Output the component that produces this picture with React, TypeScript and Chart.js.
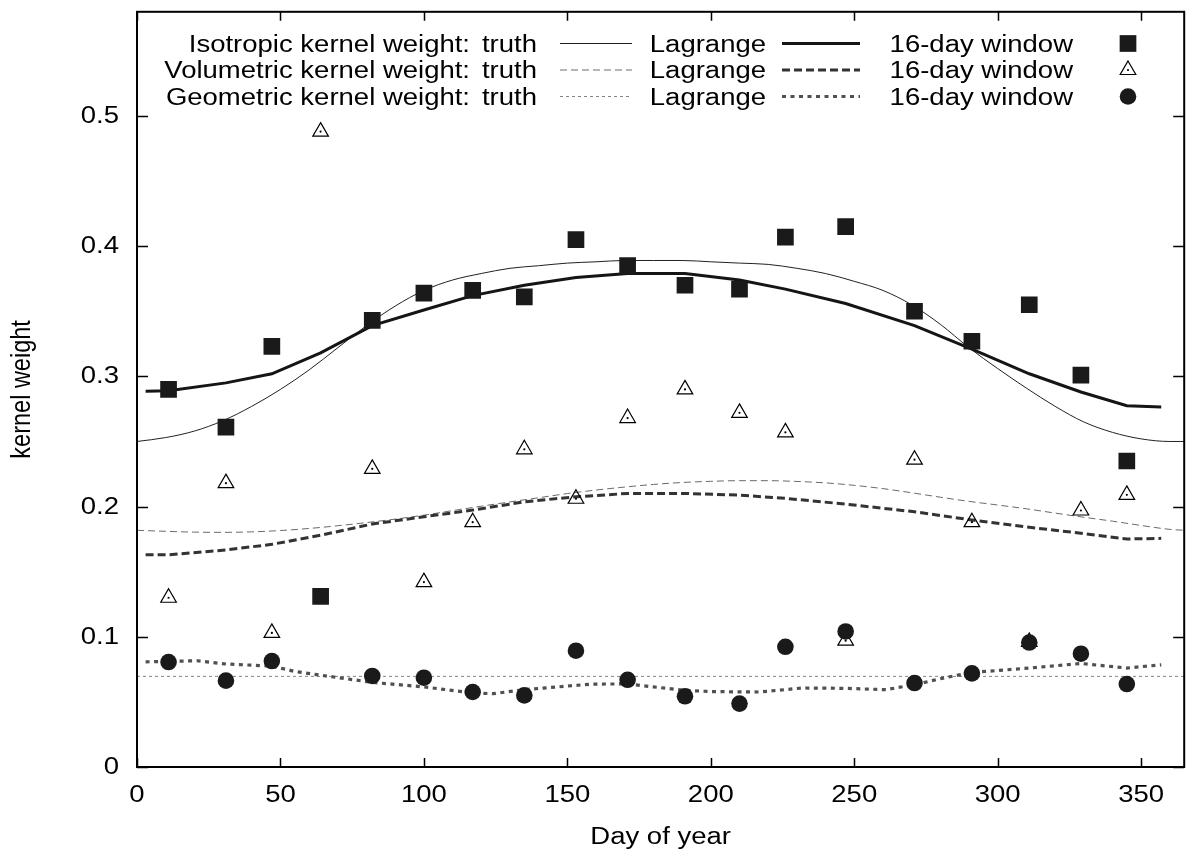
import React, { useEffect, useRef } from 'react';
import { Chart, registerables } from 'chart.js';

Chart.register(...registerables);

// ---------- data ----------
const truthDays = [0, 10, 20, 30, 40, 50, 60, 70, 80, 90, 100, 110, 120, 130, 140, 150, 160, 170, 180,
  190, 200, 210, 220, 230, 240, 250, 260, 270, 280, 290, 300, 310, 320, 330, 340, 350, 360, 365];
const isoTruth = [0.250, 0.253, 0.258, 0.266, 0.277, 0.290, 0.305, 0.322, 0.339, 0.354, 0.366, 0.374, 0.379,
  0.383, 0.385, 0.387, 0.388, 0.389, 0.389, 0.389, 0.388, 0.387, 0.386, 0.383, 0.379, 0.373, 0.366, 0.355,
  0.340, 0.322, 0.306, 0.291, 0.277, 0.265, 0.257, 0.252, 0.250, 0.250];
const volTruth = [0.1818, 0.1810, 0.1804, 0.1802, 0.1806, 0.1816, 0.1832, 0.1853, 0.1877, 0.1904, 0.1934,
  0.1969, 0.2003, 0.2036, 0.2068, 0.2100, 0.2127, 0.2150, 0.2170, 0.2185, 0.2194, 0.2199, 0.2199, 0.2193,
  0.2182, 0.2163, 0.2138, 0.2106, 0.2072, 0.2040, 0.2012, 0.1983, 0.1950, 0.1918, 0.1888, 0.1855, 0.1825,
  0.1818];
const geoTruthDays = [0, 365];
const geoTruth = [0.0696, 0.0696];

const lagDays = [3, 11, 31, 47, 64, 82, 100, 117, 135, 153, 171, 191, 210, 226, 247, 271, 291, 311, 329, 345, 357];
const isoLagrange = [0.2885, 0.289, 0.295, 0.302, 0.318, 0.339, 0.351, 0.362, 0.370, 0.376, 0.379, 0.379,
  0.374, 0.367, 0.356, 0.339, 0.321, 0.302, 0.288, 0.2775, 0.2765];
const volLagrange = [0.163, 0.163, 0.1667, 0.171, 0.178, 0.1866, 0.1922, 0.1973, 0.2037, 0.2075, 0.2101,
  0.2101, 0.2088, 0.2063, 0.2019, 0.196, 0.1897, 0.1841, 0.1795, 0.1751, 0.1756];
const geoLagDays = [3, 11, 21, 31, 47, 55, 64, 82, 100, 117, 124, 135, 153, 159, 171, 180, 191, 200, 217,
  232, 247, 261, 271, 281, 291, 311, 329, 345, 357];
const geoLagrange = [0.0808, 0.0811, 0.0816, 0.0791, 0.0775, 0.0734, 0.0705, 0.065, 0.0615, 0.0569, 0.0563,
  0.0594, 0.0627, 0.0637, 0.0638, 0.0615, 0.0589, 0.0579, 0.0576, 0.0607, 0.0604, 0.0594, 0.0632, 0.0683,
  0.0726, 0.076, 0.0795, 0.076, 0.0785];

const windowDays = [11, 31, 47, 64, 82, 100, 117, 135, 153, 171, 191, 210, 226, 247, 271, 291, 311, 329, 345];
const isoWindow = [0.290, 0.261, 0.323, 0.131, 0.343, 0.364, 0.366, 0.361, 0.405, 0.385, 0.370, 0.367,
  0.407, 0.415, 0.350, 0.327, 0.355, 0.301, 0.235];
const volWindow = [0.130, 0.218, 0.103, 0.488, 0.229, 0.142, 0.188, 0.244, 0.206, 0.268, 0.290, 0.272,
  0.257, 0.097, 0.236, 0.188, 0.096, 0.197, 0.209];
const geoWindow = [0.0806, 0.0663, 0.0814, null, 0.0699, 0.0686, 0.0576, 0.055, 0.0893, 0.067, 0.0543,
  0.0487, 0.0923, 0.1041, 0.0645, 0.0719, 0.0956, 0.087, 0.0637];

const xTicks = [0, 50, 100, 150, 200, 250, 300, 350];
const xTickLabels = ['0', '50', '100', '150', '200', '250', '300', '350'];
const yTicks = [0, 0.1, 0.2, 0.3, 0.4, 0.5];
const yTickLabels = ['0', '0.1', '0.2', '0.3', '0.4', '0.5'];

const rowLabels = ['Isotropic kernel weight:', 'Volumetric kernel weight:', 'Geometric kernel weight:'];
const entryLabels = ['truth', 'Lagrange', '16-day window'];

const xAxisTitle = 'Day of year';
const yAxisTitle = 'kernel weight';

// ---------- helpers ----------
const pts = (xs: number[], ys: (number | null)[]) =>
  xs.map((x, i) => ({ x, y: ys[i] })).filter((p) => p.y !== null);

const FONT = "'Liberation Sans', Arial, Helvetica, sans-serif";
const FS = 23.5; // glyph height of the reference text
const SX = 1.17; // the reference text is horizontally wider than tall

const lineStyles = [
  { truth: { color: '#222222', width: 1, dash: [] as number[] }, lag: { color: '#151515', width: 3, dash: [] as number[] } },
  { truth: { color: '#6a6a6a', width: 1, dash: [7, 4] }, lag: { color: '#333333', width: 3, dash: [8, 4] } },
  { truth: { color: '#858585', width: 1, dash: [3, 3] }, lag: { color: '#505050', width: 3.2, dash: [4, 4.5] } },
];

function text(ctx: CanvasRenderingContext2D, s: string, x: number, y: number, align: CanvasTextAlign, rotate = false) {
  ctx.save();
  ctx.translate(x, y);
  ctx.scale(SX, 1);
  if (rotate) ctx.rotate(-Math.PI / 2);
  ctx.font = `${FS}px ${FONT}`;
  ctx.fillStyle = '#000';
  ctx.textBaseline = 'middle';
  ctx.textAlign = align;
  ctx.fillText(s, 0, 0);
  ctx.restore();
}

function drawMarker(ctx: CanvasRenderingContext2D, kind: number, x: number, y: number) {
  ctx.save();
  ctx.setLineDash([]);
  if (kind === 0) {
    const s = 8.35;
    ctx.fillStyle = '#1a1a1a';
    ctx.fillRect(x - s, y - s, 2 * s, 2 * s);
  } else if (kind === 1) {
    const r = 9;
    ctx.strokeStyle = '#000';
    ctx.lineWidth = 1.2;
    ctx.beginPath();
    ctx.moveTo(x, y - r);
    ctx.lineTo(x + r * 0.866, y + r / 2);
    ctx.lineTo(x - r * 0.866, y + r / 2);
    ctx.closePath();
    ctx.stroke();
    ctx.fillStyle = '#000';
    ctx.beginPath();
    ctx.arc(x, y, 1.1, 0, Math.PI * 2);
    ctx.fill();
  } else {
    ctx.fillStyle = '#1a1a1a';
    ctx.beginPath();
    ctx.arc(x, y, 8.3, 0, Math.PI * 2);
    ctx.fill();
  }
  ctx.restore();
}

const framePlugin = {
  id: 'gnuFrame',
  afterDatasetsDraw(chart: any) {
    const { ctx, chartArea } = chart;
    const { left, right, top, bottom } = chartArea;
    const xs = chart.scales.x;
    const ys = chart.scales.y;
    ctx.save();
    ctx.strokeStyle = '#000';
    ctx.setLineDash([]);
    ctx.lineWidth = 1.5;
    const tl = 9;
    ctx.beginPath();
    xTicks.forEach((v) => {
      const px = Math.round(xs.getPixelForValue(v)) + 0.5;
      ctx.moveTo(px, bottom);
      ctx.lineTo(px, bottom - tl);
      ctx.moveTo(px, top);
      ctx.lineTo(px, top + tl);
    });
    yTicks.forEach((v) => {
      const py = Math.round(ys.getPixelForValue(v)) + 0.5;
      ctx.moveTo(left, py);
      ctx.lineTo(left + tl + 2, py);
      ctx.moveTo(right, py);
      ctx.lineTo(right - tl - 2, py);
    });
    ctx.stroke();
    ctx.lineWidth = 2;
    ctx.strokeRect(left, top, right - left, bottom - top);
    ctx.restore();
  },
  afterDraw(chart: any) {
    const { ctx, chartArea } = chart;
    const { left, right, top, bottom } = chartArea;
    const xs = chart.scales.x;
    const ys = chart.scales.y;

    // tick labels (from the scales)
    xTicks.forEach((v, i) => text(ctx, xTickLabels[i], xs.getPixelForValue(v), bottom + 29, 'center'));
    yTicks.forEach((v, i) => text(ctx, yTickLabels[i], left - 18, ys.getPixelForValue(v) + 0.5, 'right'));
    // axis titles
    text(ctx, xAxisTitle, (left + right) / 2, bottom + 71, 'center');
    text(ctx, yAxisTitle, 22, (top + bottom) / 2, 'center', true);

    // key (gnuplot style, three rows, three entries each)
    const rowsY = [43.5, 70, 96.5];
    const textDy = 2;
    const labelRight = 470;
    const truthRight = 537;
    const truthSample = [560, 632];
    const lagRight = 766;
    const lagSample = [782, 860];
    const winRight = 1073;
    const markerX = 1128;
    rowLabels.forEach((lab, i) => {
      const y = rowsY[i];
      text(ctx, lab, labelRight, y + textDy, 'right');
      text(ctx, entryLabels[0], truthRight, y + textDy, 'right');
      text(ctx, entryLabels[1], lagRight, y + textDy, 'right');
      text(ctx, entryLabels[2], winRight, y + textDy, 'right');
      const st = lineStyles[i];
      ctx.save();
      ctx.strokeStyle = st.truth.color;
      ctx.lineWidth = st.truth.width;
      ctx.setLineDash(st.truth.dash);
      ctx.beginPath();
      ctx.moveTo(truthSample[0], y);
      ctx.lineTo(truthSample[1], y);
      ctx.stroke();
      ctx.strokeStyle = st.lag.color;
      ctx.lineWidth = st.lag.width;
      ctx.setLineDash(st.lag.dash);
      ctx.beginPath();
      ctx.moveTo(lagSample[0], y);
      ctx.lineTo(lagSample[1], y);
      ctx.stroke();
      ctx.restore();
      drawMarker(ctx, i, markerX, y);
    });
  },
};

const zeroPad = (s: any) => {
  s.paddingTop = 0;
  s.paddingBottom = 0;
  s.paddingLeft = 0;
  s.paddingRight = 0;
};

export default function App() {
  const canvasRef = useRef<HTMLCanvasElement | null>(null);

  useEffect(() => {
    const prevMargin = document.body.style.margin;
    document.body.style.margin = '0';
    const canvas = canvasRef.current;
    if (!canvas) return;

    const lineDs = (label: string, data: any[], st: any, order: number, smooth: boolean) => ({
      label,
      data,
      showLine: true,
      borderColor: st.color,
      borderWidth: st.width,
      borderDash: st.dash,
      pointRadius: 0,
      fill: false,
      tension: 0,
      cubicInterpolationMode: smooth ? 'monotone' : 'default',
      order,
    });

    const chart = new Chart(canvas, {
      type: 'scatter',
      data: {
        datasets: [
          {
            label: 'Geometric 16-day window',
            data: pts(windowDays, geoWindow),
            pointStyle: 'circle',
            pointRadius: 8.3,
            pointBackgroundColor: '#1a1a1a',
            pointBorderWidth: 0,
            order: 0,
          } as any,
          lineDs('Geometric Lagrange', pts(geoLagDays, geoLagrange), lineStyles[2].lag, 1, false),
          lineDs('Geometric truth', pts(geoTruthDays, geoTruth), lineStyles[2].truth, 2, false),
          {
            label: 'Volumetric 16-day window centre',
            data: pts(windowDays, volWindow),
            pointStyle: 'circle',
            pointRadius: 1.1,
            pointBackgroundColor: '#000',
            pointBorderWidth: 0,
            order: 3,
          } as any,
          {
            label: 'Volumetric 16-day window',
            data: pts(windowDays, volWindow),
            pointStyle: 'triangle',
            pointRadius: 9,
            pointBackgroundColor: 'rgba(0,0,0,0)',
            pointBorderColor: '#000',
            pointBorderWidth: 1.2,
            order: 4,
          } as any,
          lineDs('Volumetric Lagrange', pts(lagDays, volLagrange), lineStyles[1].lag, 5, false),
          lineDs('Volumetric truth', pts(truthDays, volTruth), lineStyles[1].truth, 6, true),
          {
            label: 'Isotropic 16-day window',
            data: pts(windowDays, isoWindow),
            pointStyle: 'rect',
            pointRadius: 11.8,
            pointBackgroundColor: '#1a1a1a',
            pointBorderWidth: 0,
            order: 7,
          } as any,
          lineDs('Isotropic Lagrange', pts(lagDays, isoLagrange), lineStyles[0].lag, 8, false),
          lineDs('Isotropic truth', pts(truthDays, isoTruth), lineStyles[0].truth, 9, true),
        ],
      },
      options: {
        animation: false,
        responsive: false,
        events: [],
        layout: { padding: { left: 0, right: 2, top: 10, bottom: 0 } },
        plugins: { legend: { display: false }, tooltip: { enabled: false } },
        scales: {
          x: {
            type: 'linear',
            min: 0,
            max: 365,
            grid: { display: false, drawTicks: false },
            border: { display: false },
            afterBuildTicks: (s: any) => {
              s.ticks = xTicks.map((v) => ({ value: v }));
            },
            afterFit: (s: any) => {
              s.height = 88;
              zeroPad(s);
            },
            ticks: { display: false },
            title: { display: false },
          },
          y: {
            type: 'linear',
            min: 0,
            max: 0.58,
            grid: { display: false, drawTicks: false },
            border: { display: false },
            afterBuildTicks: (s: any) => {
              s.ticks = yTicks.map((v) => ({ value: v }));
            },
            afterFit: (s: any) => {
              s.width = 137;
              zeroPad(s);
            },
            ticks: { display: false },
            title: { display: false },
          },
        },
      },
      plugins: [framePlugin],
    } as any);

    return () => {
      chart.destroy();
      document.body.style.margin = prevMargin;
    };
  }, []);

  return (
    <div style={{ position: 'fixed', left: 0, top: 0, width: 1191, height: 855, overflow: 'hidden', background: '#fff' }}>
      <canvas ref={canvasRef} width={1196} height={855} style={{ display: 'block' }} />
    </div>
  );
}
